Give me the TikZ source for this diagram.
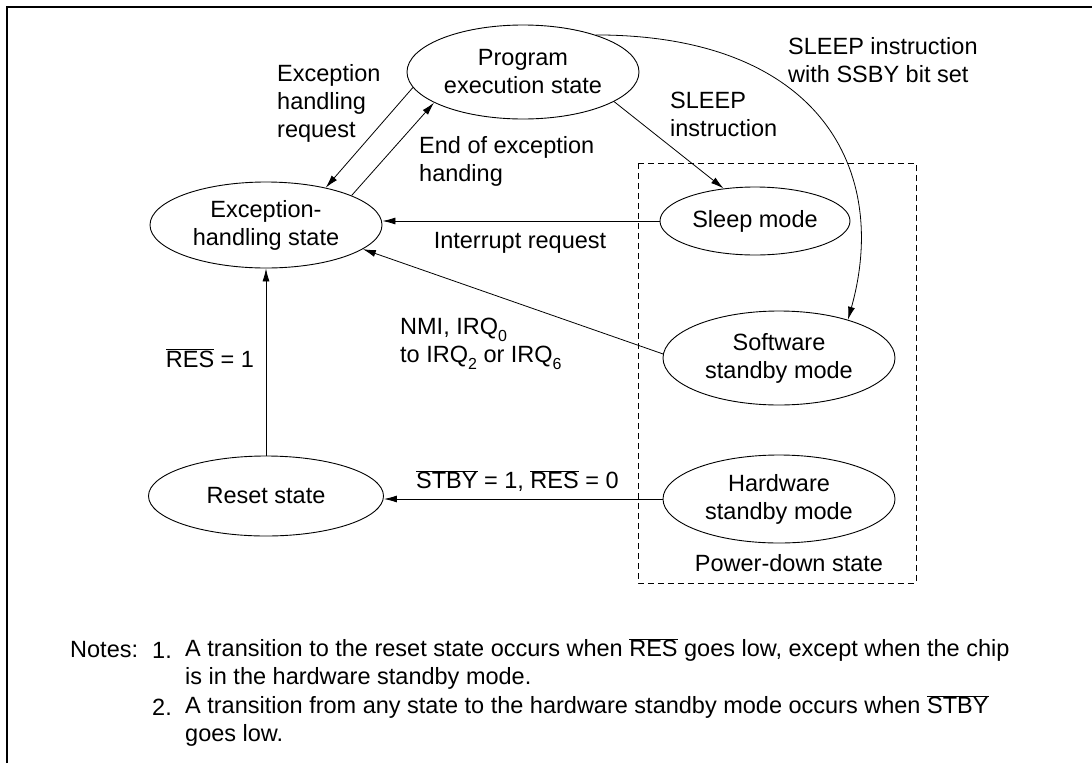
\documentclass[tikz,border=0pt]{standalone}
\usepackage{fontspec}
\setmainfont{Liberation Sans}
\usetikzlibrary{shapes.geometric,arrows.meta}
\newcommand\ovl[1]{$\overline{\mbox{#1}}$}
\newcommand\sub[1]{\raisebox{-0.28em}{\fontsize{16}{16}\selectfont #1}}
\begin{document}
\begin{tikzpicture}[x=1pt,y=-1pt,
  every node/.style={font=\fontsize{23.5}{28}\selectfont, inner sep=0pt},
  st/.style={ellipse, draw, line width=0.9pt, align=center, minimum width=232pt},
  lbl/.style={align=left, anchor=west},
  conn/.style={line width=0.8pt, -{Latex[length=13pt,width=7pt]}}]
\useasboundingbox (0,0) rectangle (1092,763);
\draw[line width=1.5pt] (7,763) -- (7,7) -- (1092,7);
% power-down box
\draw[dashed, dash pattern=on 6pt off 4pt, line width=0.8pt] (638,163) rectangle (916,583);
% states
\node[st, minimum height=94pt] (prog) at (523,72) {Program\\execution state};
\node[st, minimum height=86pt] (exc) at (266,225) {Exception-\\handling state};
\node[st, minimum width=190pt, minimum height=68pt] (sleep) at (755,221) {Sleep mode};
\node[st, minimum height=94pt] (sw) at (779,358) {Software\\standby mode};
\node[st, minimum height=88pt] (hw) at (779,499) {Hardware\\standby mode};
\node[st, minimum width=235pt, minimum height=80pt] (reset) at (266,496) {Reset state};
% labels
\node[lbl] (ehrl) at (277,103) {Exception\\handling\\request};
\node[lbl] (eoel) at (419,161) {End of exception\\handing};
\node[lbl] (sleepl) at (670,114) {SLEEP\\instruction};
\node[lbl] (ssbyl) at (788,60) {SLEEP instruction\\with SSBY bit set};
\node (intl) at (520,243) {Interrupt request};
\node[lbl] (nmil) at (400,344) {NMI, IRQ\sub{0}\\to IRQ\sub{2} or IRQ\sub{6}};
\node (resl) at (210,358) {\ovl{RES} = 1};
\node[lbl] (stbyl) at (416,481) {\ovl{STBY} = 1, \ovl{RES} = 0};
\node (pdl) at (789,563) {Power-down state};
% connectors
\draw[conn] (prog.188) -- (exc.32);
\draw[conn] (exc.19) -- (prog.199);
\draw[conn] (prog.-18) -- (sleep.134);
\draw[conn] (prog.27) .. controls (820,35) and (890,170) .. (sw.29);
\draw[conn] (sleep.west) -- (sleep.west -| exc.east);
\draw[conn] (sw.178) -- (exc.-14);
\draw[conn] (reset.north) -- (exc.south);
\draw[conn] (hw.west) -- (hw.west -| reset.east);
% notes
\node[anchor=west] (notes) at (70,650) {Notes:};
\node[anchor=west] (n1) at (152,650) {1.};
\node[anchor=west] (n1a) at (185,650) {A transition to the reset state occurs when \ovl{RES} goes low, except when the chip};
\node[anchor=west] (n1b) at (185,678) {is in the hardware standby mode.};
\node[anchor=west] (n2) at (152,707) {2.};
\node[anchor=west] (n2a) at (185,707) {A transition from any state to the hardware standby mode occurs when \ovl{STBY}};
\node[anchor=west] (n2b) at (185,735) {goes low.};
\end{tikzpicture}
\end{document}
